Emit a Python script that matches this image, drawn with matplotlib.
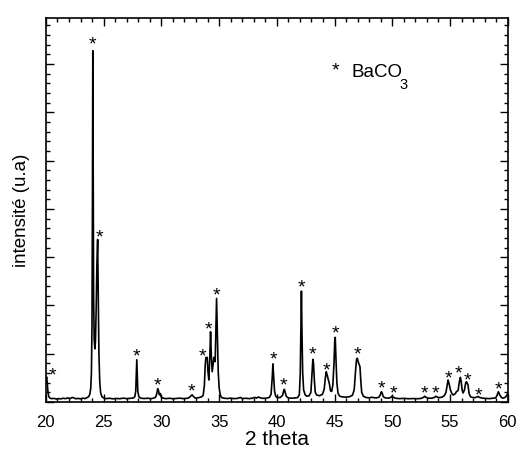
import matplotlib
matplotlib.use("Agg")
import matplotlib.pyplot as plt
from matplotlib.ticker import MultipleLocator

plt.rcParams['font.family'] = ['Liberation Sans', 'DejaVu Sans']

# diffractogram (2 theta in degrees, intensity in arbitrary units)
two_theta = [
    20.00, 20.06, 20.12, 20.18, 20.25, 20.35, 20.5, 20.7, 20.9, 21.1, 21.3, 21.5, 21.7, 21.9,
    22.1, 22.3, 22.45, 22.6, 22.8, 23.0, 23.2, 23.4, 23.55, 23.7, 23.8, 23.88, 23.94, 23.99,
    24.03, 24.06, 24.09, 24.13, 24.18, 24.24, 24.29, 24.35, 24.42, 24.48, 24.53, 24.59, 24.66,
    24.74, 24.85, 25.0, 25.2, 25.5, 25.8, 26.1, 26.4, 26.7, 27.0, 27.3, 27.55, 27.7, 27.78,
    27.83, 27.87, 27.91, 27.96, 28.05, 28.2, 28.5, 28.8, 29.1, 29.35, 29.5, 29.6, 29.68, 29.75,
    29.82, 29.9, 29.98, 30.1, 30.4, 30.7, 31.0, 31.3, 31.6, 31.9, 32.2, 32.4, 32.55, 32.66,
    32.76, 32.88, 33.0, 33.2, 33.35, 33.5, 33.62, 33.72, 33.80, 33.86, 33.92, 33.97, 34.03,
    34.11, 34.19, 34.26, 34.32, 34.40, 34.48, 34.55, 34.61, 34.66, 34.72, 34.78, 34.84, 34.92,
    35.0, 35.1, 35.2, 35.4, 35.7, 36.0, 36.3, 36.6, 36.85, 37.0, 37.3, 37.6, 37.9, 38.1, 38.25,
    38.4, 38.55, 38.8, 39.1, 39.35, 39.5, 39.6, 39.66, 39.72, 39.8, 39.9, 40.05, 40.3, 40.5,
    40.6, 40.65, 40.72, 40.82, 40.95, 41.2, 41.5, 41.8, 41.95, 42.03, 42.08, 42.13, 42.18,
    42.24, 42.32, 42.45, 42.6, 42.8, 42.95, 43.05, 43.12, 43.18, 43.25, 43.33, 43.45, 43.7,
    43.95, 44.1, 44.2, 44.28, 44.36, 44.45, 44.55, 44.65, 44.75, 44.85, 44.95, 45.02, 45.06,
    45.12, 45.2, 45.3, 45.45, 45.7, 46.0, 46.3, 46.55, 46.7, 46.82, 46.9, 46.97, 47.05, 47.15,
    47.2, 47.27, 47.35, 47.5, 47.7, 48.0, 48.2, 48.35, 48.6, 48.85, 48.98, 49.06, 49.13, 49.22,
    49.4, 49.7, 49.9, 50.0, 50.08, 50.25, 50.6, 51.0, 51.4, 51.8, 52.2, 52.5, 52.7, 52.81,
    52.9, 53.1, 53.4, 53.65, 53.78, 53.85, 54.0, 54.3, 54.5, 54.65, 54.76, 54.83, 54.9, 55.04,
    55.15, 55.27, 55.45, 55.55, 55.7, 55.82, 55.9, 55.97, 56.05, 56.13, 56.25, 56.36, 56.42,
    56.5, 56.56, 56.65, 56.77, 56.95, 57.15, 57.3, 57.42, 57.55, 57.8, 58.1, 58.4, 58.7,
    58.95, 59.08, 59.19, 59.3, 59.45, 59.6, 59.8, 59.95, 60.0,
]
intensity = [
    430, 520, 380, 200, 110, 80, 70, 75, 62, 70, 66, 78, 70, 85,
    72, 95, 80, 68, 74, 66, 80, 72, 90, 110, 160, 280, 600, 1600,
    4200, 7276, 4800, 2200, 1300, 1100, 1250, 1900, 2900, 3365, 2300, 1000, 420,
    190, 110, 85, 70, 78, 66, 74, 68, 80, 70, 76, 82, 110, 230,
    600, 876, 560, 220, 110, 80, 72, 78, 70, 82, 100, 170, 276, 240,
    150, 175, 110, 82, 70, 78, 68, 74, 80, 70, 76, 90, 125, 150,
    120, 90, 80, 88, 100, 110, 140, 330, 780, 925, 900, 925, 640,
    455, 900, 1455, 1000, 627, 780, 925, 860, 835, 1500, 2146, 1500, 650,
    300, 150, 95, 80, 72, 80, 70, 76, 95, 72, 78, 70, 80, 95, 82,
    105, 88, 76, 80, 95, 160, 500, 790, 560, 230, 120, 90, 95, 140,
    240, 262, 200, 120, 90, 78, 82, 90, 150, 600, 1500, 2297, 1400,
    600, 250, 150, 120, 130, 200, 600, 884, 800, 450, 200, 145, 130,
    160, 260, 500, 627, 560, 470, 380, 230, 220, 350, 800, 1300, 1339,
    900, 400, 180, 120, 105, 100, 110, 140, 250, 650, 880, 905, 830, 760,
    731, 450, 200, 120, 95, 85, 100, 92, 85, 100, 160, 213, 180, 110,
    85, 80, 100, 125, 100, 80, 70, 76, 68, 72, 68, 75, 95, 120,
    100, 80, 78, 95, 120, 110, 90, 100, 130, 200, 350, 455, 400, 248,
    180, 145, 170, 213, 240, 430, 511, 420, 250, 186, 250, 400, 420,
    386, 350, 180, 110, 95, 90, 100, 115, 95, 80, 75, 70, 78,
    85, 140, 213, 150, 95, 80, 100, 150, 170,
]

# BaCO3 reflections marked with a star
star_2theta = [20.6, 24.06, 24.6, 27.87, 29.68, 32.62, 33.55, 34.12, 34.78, 39.68, 40.6,
               42.13, 43.08, 44.32, 45.07, 46.97, 49.05, 50.06, 52.8, 53.75, 54.84, 55.76,
               56.54, 57.46, 59.19]
star_level = [450, 7300, 3300, 850, 230, 115, 840, 1390, 2110, 770, 230,
              2270, 890, 560, 1320, 890, 180, 65, 65, 80, 375, 480,
              340, 30, 150]

fig = plt.figure(figsize=(5.16, 4.54), dpi=100)
ax = fig.add_axes([0.089, 0.1145, 0.895, 0.8455])

ax.plot(two_theta, intensity, color='black', lw=1.2)

for x, y in zip(star_2theta, star_level):
    ax.text(x, y, '*', ha='center', va='baseline', fontsize=14)

# legend text, drawn by hand
ax.text(0.627, 0.862, '*', transform=ax.transAxes, ha='center', va='center', fontsize=14)
t = ax.text(0.662, 0.847, 'BaCO', transform=ax.transAxes, ha='left', va='baseline',
            fontsize=13.5)
ax.annotate('3', xy=(1, 0), xycoords=t, xytext=(-2.5, -6), textcoords='offset points',
            ha='left', va='baseline', fontsize=10.5)

ax.set_xlim(20, 60)
ax.set_ylim(0, 7950)
ax.xaxis.set_major_locator(MultipleLocator(5))
ax.xaxis.set_minor_locator(MultipleLocator(1))
ax.yaxis.set_major_locator(MultipleLocator(1000))
ax.yaxis.set_minor_locator(MultipleLocator(200))
ax.tick_params(which='both', direction='in', top=True, right=True, width=1)
ax.tick_params(which='major', length=5.5)
ax.tick_params(which='minor', length=3)
ax.tick_params(axis='x', labelsize=12, pad=9)
ax.tick_params(axis='y', labelleft=False)
for s in ax.spines.values():
    s.set_linewidth(1.2)

ax.set_xlabel('2 theta', fontsize=15, labelpad=0)
ax.set_ylabel('intensité (u.a)', fontsize=13.5, labelpad=8)

fig.savefig('out.png', dpi=100)
